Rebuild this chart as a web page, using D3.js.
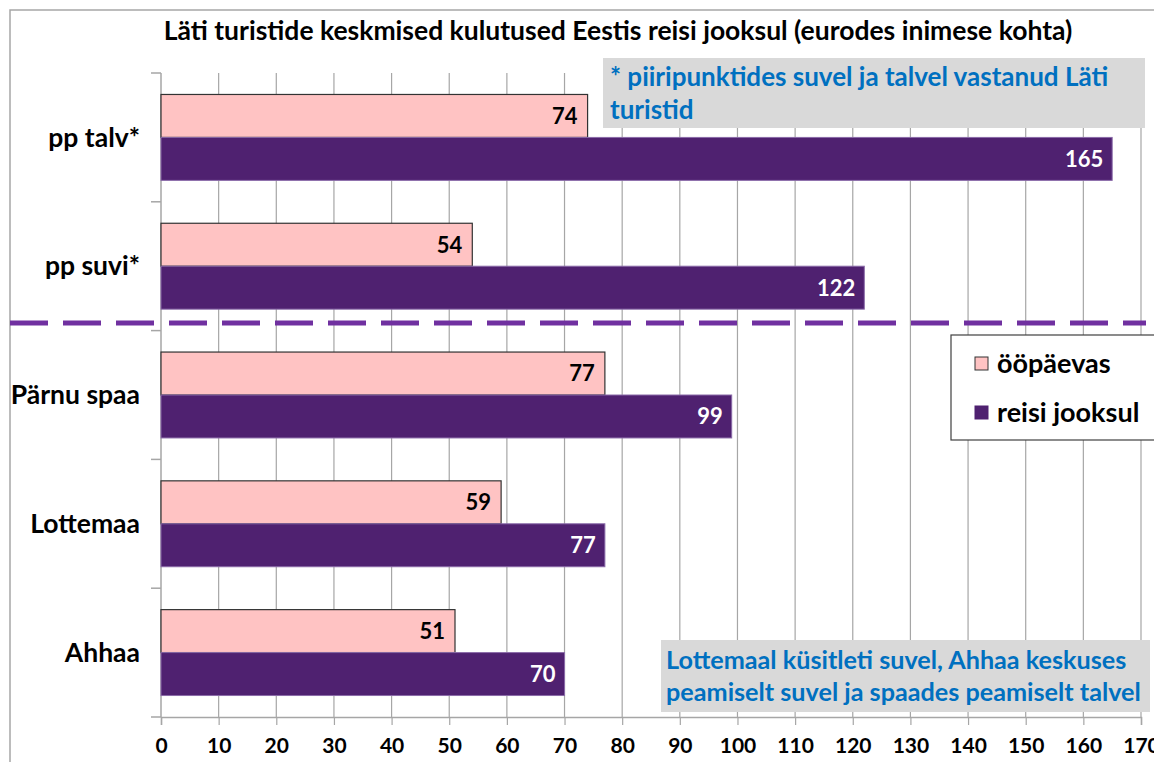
<!DOCTYPE html>
<html>
<head>
<meta charset="utf-8">
<script src="https://d3js.org/d3.v7.min.js"></script>
<style>
    body { margin: 0; background: #fff; }
    text { font-family: Lato, "Open Sans", sans-serif; font-weight: bold; }
</style>
</head>
<body>
<svg width="1154" height="762"></svg>
<script>
    // data
    var categories = ["pp talv*", "pp suvi*", "Pärnu spaa", "Lottemaa", "Ahhaa"];
    var perDay = [74, 54, 77, 59, 51];      // ööpäevas
    var perTrip = [165, 122, 99, 77, 70];   // reisi jooksul
    var seriesNames = ["ööpäevas", "reisi jooksul"];
    var tickValues = d3.range(0, 171, 10);

    var svg = d3.select("svg");
    var pink = "#ffc3c3", purple = "#4f2170";

    // outer frame
    svg.append("path")
        .attr("d", "M10,762 V10 H1154")
        .attr("fill", "none")
        .attr("stroke", "#a6a6a6")
        .attr("stroke-width", 1.5);

    svg.append("text")
        .attr("x", 618).attr("y", 40)
        .attr("text-anchor", "middle")
        .attr("font-size", 26.5)
        .text("Läti turistide keskmised kulutused Eestis reisi jooksul (eurodes inimese kohta)");

    var x = d3.scaleLinear().domain([0, 170]).range([161, 1141]);
    var y = d3.scaleBand().domain(categories).range([73, 717]).paddingInner(0.333).paddingOuter(0.1667);
    var barH = y.bandwidth() / 2;

    // vertical gridlines
    svg.append("g").selectAll("line")
        .data(tickValues.slice(1))
        .enter().append("line")
        .attr("x1", d => x(d)).attr("x2", d => x(d))
        .attr("y1", 73).attr("y2", 717)
        .attr("stroke", "#a6a6a6").attr("stroke-width", 1.2);

    // x axis
    var xa = svg.append("g")
        .attr("transform", "translate(0,717)")
        .call(d3.axisBottom(x).tickValues(tickValues).tickSize(8).tickPadding(13));
    xa.select(".domain").attr("stroke", "#a6a6a6").attr("stroke-width", 1.5);
    xa.selectAll(".tick line").attr("stroke", "#a6a6a6").attr("stroke-width", 1.2);
    xa.selectAll("text").attr("font-size", 21).attr("fill", "#000")
        .style("font-family", "Lato, sans-serif").style("font-weight", "bold");

    // y axis line and ticks at band boundaries
    var bounds = d3.range(categories.length + 1).map(i => 73 + i * (644 / categories.length));
    svg.append("line").attr("x1", 161).attr("x2", 161).attr("y1", 73).attr("y2", 717)
        .attr("stroke", "#a6a6a6").attr("stroke-width", 1.5);
    svg.append("g").selectAll("line").data(bounds).enter().append("line")
        .attr("x1", 151).attr("x2", 161).attr("y1", d => d).attr("y2", d => d)
        .attr("stroke", "#a6a6a6").attr("stroke-width", 1.5);

    // category labels
    svg.append("g").selectAll("text").data(categories).enter().append("text")
        .attr("x", 140)
        .attr("y", d => y(d) + barH)
        .attr("dy", "0.35em")
        .attr("text-anchor", "end")
        .attr("font-size", 26.5)
        .text(d => d);

    // bars
    var rows = categories.map((c, i) => ({ cat: c, a: perDay[i], b: perTrip[i] }));
    var g = svg.append("g");
    g.selectAll(".pink").data(rows).enter().append("rect")
        .attr("x", x(0)).attr("y", d => y(d.cat))
        .attr("width", d => x(d.a) - x(0)).attr("height", barH)
        .attr("fill", pink).attr("stroke", "#333").attr("stroke-width", 1.2);
    g.selectAll(".purple").data(rows).enter().append("rect")
        .attr("x", x(0)).attr("y", d => y(d.cat) + barH)
        .attr("width", d => x(d.b) - x(0)).attr("height", barH)
        .attr("fill", purple).attr("stroke", "#8a6aa8").attr("stroke-width", 1);

    g.selectAll(".la").data(rows).enter().append("text")
        .attr("x", d => x(d.a) - 10).attr("y", d => y(d.cat) + barH / 2)
        .attr("dy", "0.36em").attr("text-anchor", "end")
        .attr("font-size", 22).attr("fill", "#000")
        .text(d => d.a);
    g.selectAll(".lb").data(rows).enter().append("text")
        .attr("x", d => x(d.b) - 9).attr("y", d => y(d.cat) + barH * 1.5)
        .attr("dy", "0.36em").attr("text-anchor", "end")
        .attr("font-size", 22).attr("fill", "#fff")
        .text(d => d.b);

    // dashed separator
    svg.append("line")
        .attr("x1", 10).attr("x2", 1146).attr("y1", 323).attr("y2", 323)
        .attr("stroke", "#7030a0").attr("stroke-width", 5)
        .attr("stroke-dasharray", "38,15");

    // note boxes
    function note(x0, y0, w, h, lines, tx, ty, lh, fs) {
        svg.append("rect").attr("x", x0).attr("y", y0).attr("width", w).attr("height", h).attr("fill", "#d9d9d9");
        lines.forEach((t, i) => {
            svg.append("text").attr("x", tx).attr("y", ty + i * lh)
                .attr("font-size", fs).attr("fill", "#0070c0").text(t);
        });
    }
    note(603, 58, 542, 70, ["* piiripunktides suvel ja talvel vastanud Läti", "turistid"], 610, 86, 33, 26);
    note(661, 640, 489, 72, ["Lottemaal küsitleti suvel, Ahhaa keskuses", "peamiselt suvel ja spaades peamiselt talvel"], 666, 669, 32, 25.2);

    // legend
    var lg = svg.append("g");
    lg.append("rect").attr("x", 951).attr("y", 335).attr("width", 220).attr("height", 105)
        .attr("fill", "#fff").attr("stroke", "#404040").attr("stroke-width", 1.2);
    [pink, purple].forEach((c, i) => {
        lg.append("rect").attr("x", 975).attr("y", 357 + i * 49).attr("width", 13).attr("height", 13)
            .attr("fill", c).attr("stroke", i === 0 ? "#333" : purple);
        lg.append("text").attr("x", 997).attr("y", 364 + i * 49).attr("dy", "0.35em")
            .attr("font-size", 27).text(seriesNames[i]);
    });
</script>
</body>
</html>
